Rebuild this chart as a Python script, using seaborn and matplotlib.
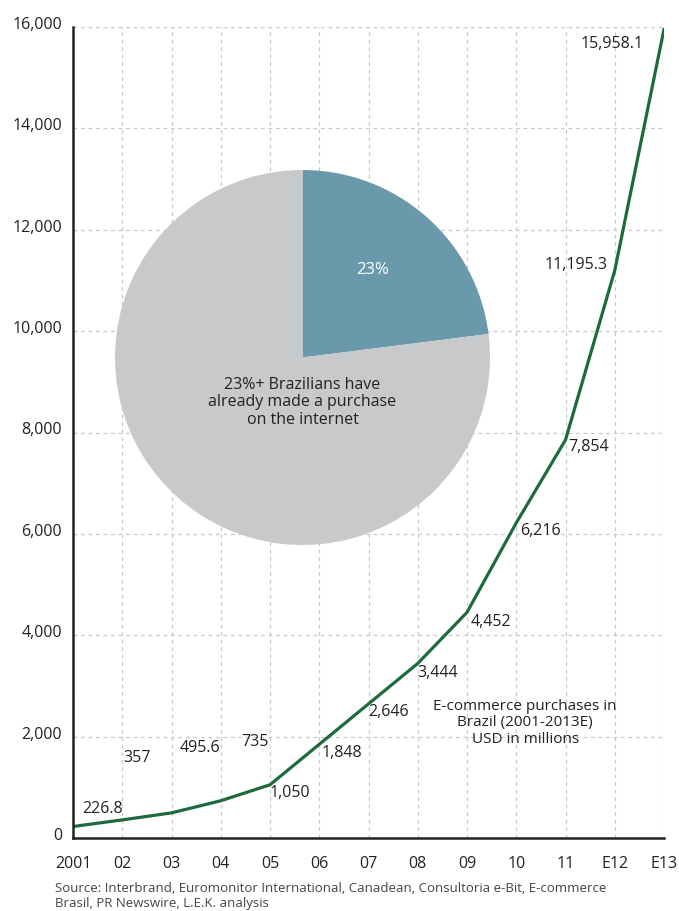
import matplotlib
matplotlib.use("Agg")
import matplotlib.pyplot as plt
import matplotlib.transforms as mtransforms
import seaborn as sns
import pandas as pd
import numpy as np

years = ["2001", "02", "03", "04", "05", "06", "07", "08", "09", "10", "11", "E12", "E13"]
values = [226.8, 357, 495.6, 735, 1050, 1848, 2646, 3444, 4452, 6216, 7854, 11195.3, 15958.1]
value_labels = ["226.8", "357", "495.6", "735", "1,050", "1,848", "2,646", "3,444",
                "4,452", "6,216", "7,854", "11,195.3", "15,958.1"]
y_ticks = [0, 2000, 4000, 6000, 8000, 10000, 12000, 14000, 16000]
y_tick_labels = ["0", "2,000", "4,000", "6,000", "8,000", "10,000", "12,000", "14,000", "16,000"]
pie_values = [23, 77]
pie_label = "23%"
pie_text = "23%+ Brazilians have\nalready made a purchase\non the internet"
chart_note = "E-commerce purchases in\nBrazil (2001-2013E)\nUSD in millions"
source = "Source: Interbrand, Euromonitor International, Canadean, Consultoria e-Bit, E-commerce\nBrasil, PR Newswire, L.E.K. analysis"

# label offsets in screen pixels (dx right, dy down)
label_offsets = [(30, -18), (15, -62), (28, -65), (34, -59), (20, 8), (23, 9), (20, 8),
                 (20, 10), (24, 10), (24, 8), (23, 7), (-39, -6), (-52, 15)]

sns.set_style("white")
plt.rcParams['font.family'] = ['Open Sans', 'DejaVu Sans']

W, H = 679, 911
fig = plt.figure(figsize=(W / 100, H / 100), dpi=100)
ax = fig.add_axes([73 / W, (H - 838) / H, (664 - 73) / W, (838 - 27) / H])

df = pd.DataFrame({"x": np.arange(len(years)), "y": values})
sns.lineplot(data=df, x="x", y="y", ax=ax, color="#1d6a3c", linewidth=2.3)

ax.set_xlim(0, len(years) - 1)
ax.set_ylim(0, 16000)
ax.set_xticks(np.arange(len(years)))
ax.set_xticklabels(years)
ax.set_yticks(y_ticks)
ax.set_yticklabels(y_tick_labels)
ax.set_xlabel("")
ax.set_ylabel("")
ax.tick_params(axis="x", direction="out", length=5, width=1.8, color="#222222",
               labelsize=11.5, labelcolor="#222222", pad=8)
ax.tick_params(axis="y", direction="out", length=5, width=1.8, color="#222222",
               labelsize=11.5, labelcolor="#222222", pad=3)
shift = mtransforms.ScaledTranslation(0, 4 / 100, fig.dpi_scale_trans)
for lab in ax.get_yticklabels():
    lab.set_transform(lab.get_transform() + shift)
for s in ["top", "right"]:
    ax.spines[s].set_visible(False)
for s in ["left", "bottom"]:
    ax.spines[s].set_color("#222222")
    ax.spines[s].set_linewidth(1.8)
ax.grid(True, color="#c8c8c8", linestyle=(0, (3, 3)), linewidth=0.9)
ax.set_axisbelow(True)

for i, (v, lab) in enumerate(zip(values, value_labels)):
    dx, dy = label_offsets[i]
    ax.annotate(lab, (i, v), xytext=(dx, -dy), textcoords="offset pixels",
                ha="center", va="center", fontsize=11.5, color="#222222")

ax.text(0.765, 0.142, chart_note, transform=ax.transAxes, ha="center", va="center",
        fontsize=11, color="#222222", linespacing=1.15)

# Pie inset
pax = fig.add_axes([115 / W, (H - 545) / H, 375 / W, 375 / H])
pax.pie(pie_values, colors=["#6a99ac", "#c8c9cb"], startangle=90, counterclock=False,
        wedgeprops=dict(linewidth=0))
pax.set_xlim(-1, 1)
pax.set_ylim(-1, 1)
pax.set_aspect("equal")
pax.axis("off")
pax.text(0.374, 0.465, pie_label, ha="center", va="center", color="white", fontsize=12)
pax.text(0, -0.24, pie_text, ha="center", va="center", color="#222222", fontsize=11.5,
         linespacing=1.1)

fig.text(55 / W, 1 - 896 / H, source, ha="left", va="center", fontsize=9.5, color="#444444",
         linespacing=1.1)

fig.savefig("out.png", dpi=100)
